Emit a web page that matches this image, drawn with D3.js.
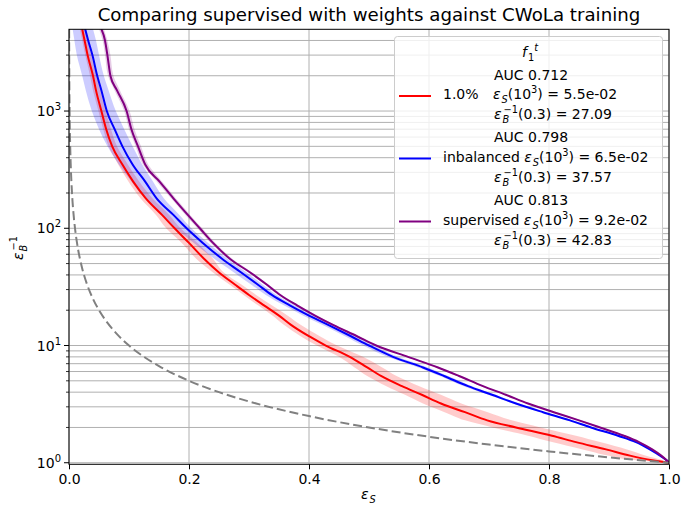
<!DOCTYPE html>
<html>
<head>
<meta charset="utf-8">
<script src="https://cdn.jsdelivr.net/npm/d3@7"></script>
<style>
  body { margin: 0; background: #fff; }
  svg { font-family: "DejaVu Sans", sans-serif; }
</style>
</head>
<body>
<svg id="roc" width="684" height="509"></svg>
<script>
// inverse background efficiency levels shared by every curve
var rejGrid = [5000, 4000, 3000, 2000, 1500, 1000, 700, 500, 350, 250, 180, 130, 100, 75, 55, 42, 33, 27, 22, 18, 15, 12, 10, 8, 6.5, 5.5, 4.5, 3.8, 3.2, 2.7, 2.3, 2.0, 1.7, 1.5, 1.3, 1.15, 1.05, 1.0];

// signal efficiency for each level, per model
var epsRed   = [0.022, 0.026, 0.031, 0.040, 0.045, 0.054, 0.062, 0.072, 0.089, 0.107, 0.128, 0.155, 0.176, 0.200, 0.225, 0.250, 0.277, 0.300, 0.325, 0.350, 0.370, 0.400, 0.428, 0.468, 0.497, 0.520, 0.555, 0.588, 0.620, 0.660, 0.697, 0.745, 0.805, 0.845, 0.895, 0.935, 0.972, 1.0];
var epsRedLo = [0.018, 0.022, 0.027, 0.035, 0.040, 0.049, 0.057, 0.066, 0.082, 0.099, 0.119, 0.145, 0.162, 0.188, 0.212, 0.240, 0.268, 0.291, 0.315, 0.339, 0.358, 0.386, 0.413, 0.450, 0.476, 0.497, 0.529, 0.560, 0.590, 0.626, 0.660, 0.706, 0.765, 0.805, 0.856, 0.900, 0.945, 1.0];
var epsRedHi = [0.028, 0.032, 0.037, 0.046, 0.052, 0.061, 0.070, 0.080, 0.098, 0.117, 0.139, 0.167, 0.186, 0.214, 0.240, 0.258, 0.288, 0.312, 0.338, 0.364, 0.386, 0.418, 0.447, 0.490, 0.522, 0.546, 0.584, 0.620, 0.654, 0.698, 0.738, 0.786, 0.845, 0.885, 0.930, 0.962, 0.990, 1.0];

var epsBlue   = [0.027, 0.032, 0.039, 0.047, 0.054, 0.063, 0.076, 0.089, 0.106, 0.127, 0.146, 0.174, 0.196, 0.223, 0.255, 0.287, 0.315, 0.338, 0.368, 0.400, 0.432, 0.470, 0.500, 0.540, 0.590, 0.625, 0.665, 0.705, 0.745, 0.790, 0.835, 0.870, 0.915, 0.945, 0.968, 0.985, 0.996, 1.0];
var epsBlueLo = [0.006, 0.009, 0.013, 0.022, 0.028, 0.038, 0.050, 0.064, 0.083, 0.104, 0.126, 0.156, 0.178, 0.208, 0.242, 0.275, 0.304, 0.328, 0.358, 0.390, 0.422, 0.460, 0.490, 0.531, 0.582, 0.618, 0.658, 0.699, 0.740, 0.786, 0.831, 0.867, 0.912, 0.943, 0.967, 0.984, 0.996, 1.0];
var epsBlueHi = [0.040, 0.045, 0.050, 0.058, 0.066, 0.078, 0.092, 0.106, 0.122, 0.140, 0.158, 0.184, 0.204, 0.232, 0.264, 0.296, 0.323, 0.346, 0.376, 0.408, 0.440, 0.478, 0.508, 0.548, 0.598, 0.632, 0.672, 0.711, 0.750, 0.794, 0.839, 0.873, 0.918, 0.947, 0.969, 0.986, 0.996, 1.0];

var epsPurple   = [0.054, 0.060, 0.064, 0.069, 0.080, 0.096, 0.104, 0.115, 0.127, 0.151, 0.174, 0.198, 0.218, 0.240, 0.268, 0.302, 0.330, 0.352, 0.380, 0.410, 0.440, 0.480, 0.512, 0.565, 0.615, 0.650, 0.690, 0.728, 0.765, 0.808, 0.850, 0.885, 0.925, 0.950, 0.972, 0.987, 0.996, 1.0];
var epsPurpleLo = [0.050, 0.056, 0.060, 0.065, 0.076, 0.092, 0.100, 0.111, 0.123, 0.146, 0.170, 0.194, 0.214, 0.236, 0.265, 0.299, 0.327, 0.349, 0.377, 0.407, 0.437, 0.477, 0.509, 0.562, 0.612, 0.647, 0.687, 0.725, 0.762, 0.805, 0.847, 0.882, 0.922, 0.948, 0.970, 0.986, 0.995, 1.0];
var epsPurpleHi = [0.058, 0.064, 0.069, 0.074, 0.085, 0.101, 0.109, 0.120, 0.132, 0.155, 0.178, 0.202, 0.222, 0.244, 0.272, 0.305, 0.333, 0.355, 0.383, 0.413, 0.443, 0.483, 0.515, 0.568, 0.618, 0.653, 0.693, 0.731, 0.768, 0.811, 0.853, 0.888, 0.928, 0.952, 0.974, 0.988, 0.997, 1.0];

// random classifier reference
var randomEps = [0.0002, 0.0005, 0.001, 0.002, 0.003, 0.005, 0.0075, 0.01, 0.015, 0.02, 0.03, 0.04, 0.05, 0.06, 0.08, 0.1, 0.125, 0.15, 0.2, 0.25, 0.3, 0.4, 0.5, 0.6, 0.7, 0.8, 0.9, 1.0];
var randomRej = [5000, 2000, 1000, 500, 333.3, 200, 133.3, 100, 66.7, 50, 33.3, 25, 20, 16.67, 12.5, 10, 8, 6.67, 5, 4, 3.33, 2.5, 2, 1.667, 1.429, 1.25, 1.111, 1];

var seriesNames = ["1.0%", "inbalanced", "supervised"];
var aucValues = ["0.712", "0.798", "0.813"];
var effAt1e3 = ["5.5e-02", "6.5e-02", "9.2e-02"];
var rejAt03 = ["27.09", "37.57", "42.83"];

var xTicks = [0, 0.2, 0.4, 0.6, 0.8, 1.0];
var yTicks = [1, 10, 100, 1000];

var svg = d3.select("#roc");
var pLeft = 69, pRight = 669, pTop = 29.3, pBottom = 464.3;

var x = d3.scaleLinear().domain([0, 1]).range([pLeft, pRight]);
var y = d3.scaleLog().domain([0.97, 4980]).range([pBottom, pTop]);

var colors = ["#ff0000", "#0000ff", "#800080"];
var series = [
  {name: seriesNames[0], eps: epsRed, lo: epsRedLo, hi: epsRedHi},
  {name: seriesNames[1], eps: epsBlue, lo: epsBlueLo, hi: epsBlueHi},
  {name: seriesNames[2], eps: epsPurple, lo: epsPurpleLo, hi: epsPurpleHi}
];

svg.append("defs").append("clipPath").attr("id", "plotclip")
  .append("rect").attr("x", pLeft).attr("y", pTop)
  .attr("width", pRight - pLeft).attr("height", pBottom - pTop);

// grid
var minorY = [];
for (var k = 0; k < 4; k++) {
  for (var m = 2; m < 10; m++) {
    var v = m * Math.pow(10, k);
    if (v < 4980) minorY.push(v);
  }
}
var grid = svg.append("g").attr("stroke", "#b0b0b0").attr("stroke-width", 1);
grid.selectAll(".gy").data(yTicks.concat(minorY)).enter().append("line")
  .attr("x1", pLeft).attr("x2", pRight)
  .attr("y1", function(d){ return y(d); }).attr("y2", function(d){ return y(d); });
grid.selectAll(".gx").data(xTicks).enter().append("line")
  .attr("y1", pTop).attr("y2", pBottom)
  .attr("x1", function(d){ return x(d); }).attr("x2", function(d){ return x(d); });

var plot = svg.append("g").attr("clip-path", "url(#plotclip)");

// uncertainty bands
var band = d3.area()
  .y(function(d){ return y(d.r); })
  .x0(function(d){ return x(d.lo); })
  .x1(function(d){ return x(d.hi); })
  .curve(d3.curveMonotoneY);

series.forEach(function(s, i){
  var pts = rejGrid.map(function(r, j){ return {r: r, lo: s.lo[j], hi: s.hi[j]}; });
  plot.append("path").datum(pts)
    .attr("d", band)
    .attr("fill", colors[i])
    .attr("fill-opacity", 0.2);
});

var line = d3.line()
  .x(function(d){ return x(d.e); })
  .y(function(d){ return y(d.r); })
  .curve(d3.curveMonotoneX);

series.forEach(function(s, i){
  var pts = rejGrid.map(function(r, j){ return {r: r, e: s.eps[j]}; });
  plot.append("path").datum(pts)
    .attr("d", line)
    .attr("fill", "none")
    .attr("stroke", colors[i])
    .attr("stroke-width", 2);
});

plot.append("path")
  .datum(randomEps.map(function(e, j){ return {e: e, r: randomRej[j]}; }))
  .attr("d", line)
  .attr("fill", "none")
  .attr("stroke", "#808080")
  .attr("stroke-width", 2)
  .attr("stroke-dasharray", "9,4");

// axes
var xAxis = d3.axisBottom(x).tickValues(xTicks).tickSize(5).tickPadding(5)
  .tickFormat(d3.format(".1f"));
var gx = svg.append("g").attr("transform", "translate(0," + pBottom + ")").call(xAxis);
gx.select(".domain").remove();
gx.selectAll("text").attr("font-size", 14).attr("font-family", "DejaVu Sans").attr("fill", "#000");

var gy = svg.append("g").attr("transform", "translate(" + pLeft + ",0)");
gy.selectAll(".maj").data(yTicks).enter().append("line")
  .attr("x1", -5).attr("x2", 0)
  .attr("y1", function(d){ return y(d); }).attr("y2", function(d){ return y(d); })
  .attr("stroke", "#000").attr("stroke-width", 1);
gy.selectAll(".min").data(minorY).enter().append("line")
  .attr("x1", -3).attr("x2", 0)
  .attr("y1", function(d){ return y(d); }).attr("y2", function(d){ return y(d); })
  .attr("stroke", "#000").attr("stroke-width", 0.8);
var ylab = gy.selectAll(".lab").data(yTicks).enter().append("text")
  .attr("x", -8).attr("y", function(d){ return y(d) + 5; })
  .attr("text-anchor", "end").attr("font-size", 14);
ylab.append("tspan").text("10");
ylab.append("tspan").attr("dy", -6).attr("font-size", 10)
  .text(function(d){ return Math.round(Math.log10(d)); });

// spines
svg.append("rect").attr("x", pLeft).attr("y", pTop)
  .attr("width", pRight - pLeft).attr("height", pBottom - pTop)
  .attr("fill", "none").attr("stroke", "#000").attr("stroke-width", 1);

// lays out math-like text piece by piece
function mathText(g, x0, y0, parts, size) {
  var cx = x0, prevStart = x0, prevW = 0;
  parts.forEach(function(p){
    var t = p[0], kind = p[1] || "n", italic = p[2];
    var fs = size, dy = 0;
    if (kind === "sub") { fs = size * 0.7; dy = 4; }
    if (kind === "sup" || kind === "stack") { fs = size * 0.7; dy = -6; }
    var startX = kind === "stack" ? prevStart + 1 : cx;
    if (kind === "sub") startX += 1;
    var el = g.append("text").attr("x", startX).attr("y", y0 + dy)
      .attr("font-size", fs).attr("fill", "#000")
      .attr("font-style", italic ? "italic" : "normal")
      .attr("xml:space", "preserve")
      .text(t);
    var w = el.node().getComputedTextLength();
    if (kind === "stack") {
      cx = prevStart + Math.max(prevW, w + 1);
    } else {
      prevStart = startX; prevW = w;
      cx = startX + w;
    }
  });
  return cx;
}

// title and axis labels
svg.append("text").attr("x", (pLeft + pRight) / 2).attr("y", 21)
  .attr("text-anchor", "middle").attr("font-size", 18.2)
  .text("Comparing supervised with weights against CWoLa training");

mathText(svg, 361, 499, [["ε", "n", true], ["S", "sub", true]], 14);

var ylabG = svg.append("g").attr("transform", "translate(23,260) rotate(-90)");
mathText(ylabG, 0, 0, [["ε", "n", true], ["B", "sub", true], ["−1", "stack"]], 14);

// legend
var lg = svg.append("g");
lg.append("rect").attr("x", 394.5).attr("y", 36.5).attr("width", 268).attr("height", 222)
  .attr("rx", 3).attr("fill", "#fff").attr("fill-opacity", 0.8)
  .attr("stroke", "#cccccc").attr("stroke-width", 1);
mathText(lg, 522, 57, [["f", "n", true], ["1", "sub"], ["t", "sup", true]], 14);

var entryTop = [79.5, 142, 205];
series.forEach(function(s, i){
  var b = entryTop[i];
  lg.append("line").attr("x1", 399).attr("x2", 431)
    .attr("y1", b + 16.5).attr("y2", b + 16.5)
    .attr("stroke", colors[i]).attr("stroke-width", 2);
  lg.append("text").attr("x", 494).attr("y", b).attr("font-size", 14)
    .text("AUC " + aucValues[i]);
  var nameEnd = mathText(lg, 443, b + 19.5, [[s.name + " "]], 14);
  var ex = Math.max(nameEnd, 493);
  mathText(lg, ex, b + 19.5, [["ε", "n", true], ["S", "sub", true], ["(10"], ["3", "sup"], [") = " + effAt1e3[i]]], 14);
  mathText(lg, 494, b + 39.5, [["ε", "n", true], ["B", "sub", true], ["−1", "stack"], ["(0.3) = " + rejAt03[i]]], 14);
});
</script>
</body>
</html>
